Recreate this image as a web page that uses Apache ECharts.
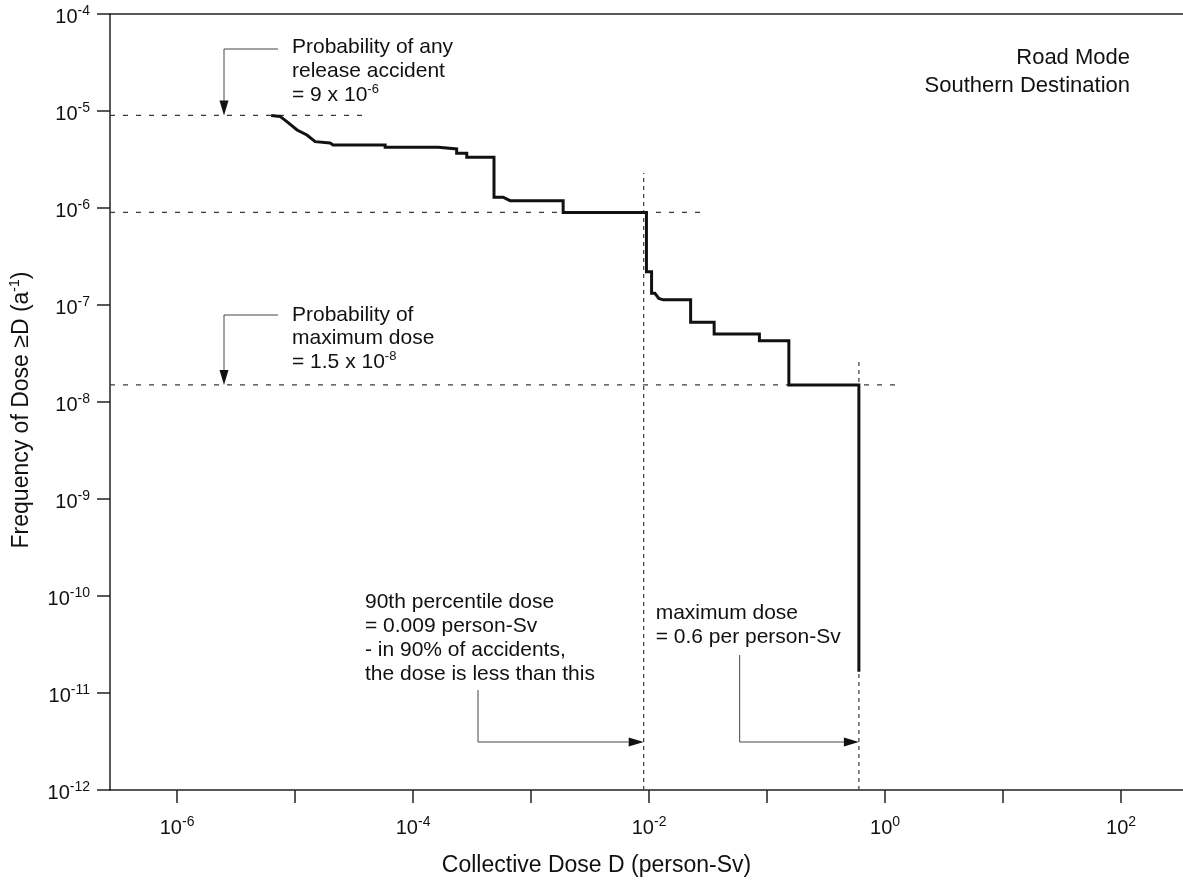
<!DOCTYPE html>
<html>
<head>
<meta charset="utf-8">
<script src="https://cdn.jsdelivr.net/npm/echarts@6/dist/echarts.min.js"></script>
<style>
  html, body { margin: 0; padding: 0; background: #fff; }
  #chart { width: 1183px; height: 889px; }
</style>
</head>
<body>
<div id="chart"></div>
<script>
// Complementary cumulative frequency of collective dose, road mode, southern destination.
// Vertices of the stepped curve: collective dose D (person-Sv) and frequency of dose >= D (per year).
const curveDose = [6.27e-6, 7.46e-6, 8.73e-6, 1.04e-5, 1.26e-5, 1.48e-5, 1.98e-5, 2.10e-5,
  5.80e-5, 5.80e-5, 1.64e-4, 1.64e-4, 2.34e-4, 2.34e-4, 2.85e-4, 2.85e-4, 4.85e-4, 4.85e-4,
  5.79e-4, 6.64e-4, 1.87e-3, 1.87e-3, 9.5e-3, 9.5e-3, 1.05e-2, 1.05e-2, 1.12e-2, 1.21e-2,
  1.32e-2, 2.25e-2, 2.25e-2, 3.56e-2, 3.56e-2, 8.61e-2, 8.61e-2, 0.153, 0.153, 0.6, 0.6];
const curveFreq = [9e-6, 8.8e-6, 7.6e-6, 6.37e-6, 5.66e-6, 4.83e-6, 4.68e-6, 4.46e-6,
  4.46e-6, 4.22e-6, 4.22e-6, 4.06e-6, 4.06e-6, 3.66e-6, 3.66e-6, 3.33e-6, 3.33e-6, 1.29e-6,
  1.29e-6, 1.19e-6, 1.19e-6, 9e-7, 9e-7, 2.2e-7, 2.2e-7, 1.32e-7, 1.32e-7, 1.17e-7,
  1.13e-7, 1.13e-7, 6.64e-8, 6.64e-8, 5.02e-8, 5.02e-8, 4.28e-8, 4.28e-8, 1.5e-8, 1.5e-8, 1.66e-11];

// Axis extents and decade exponents used for ticks and labels
const doseRange = [2.70e-7, 335];
const freqRange = [1e-12, 1e-4];
const doseTickExps = [-6, -5, -4, -3, -2, -1, 0, 1, 2];
const doseLabelExps = [-6, -4, -2, 0, 2];

// Reference levels quoted in the annotations
const releaseProb = 9e-6;        // probability of any release accident
const maxDoseProb = 1.5e-8;      // probability of maximum dose
const percentile90Dose = 0.009;  // 90th percentile dose
const percentile90Freq = 9e-7;   // frequency at the 90th percentile
const maxDose = 0.6;             // maximum dose

// Extents of the dashed guide lines
const releaseGuideEnd = 4.3e-5;
const p90GuideEnd = 0.031;
const maxProbGuideEnd = 1.4;
const p90GuideTop = 2.3e-6;
const maxDoseGuideTop = 2.8e-8;

const FONT = "'Liberation Sans', Arial, Helvetica, sans-serif";
const INK = '#111';
const lg = Math.log10;
const xMin = lg(doseRange[0]), xMax = lg(doseRange[1]);
const yMin = lg(freqRange[0]), yMax = lg(freqRange[1]);

const powRich = {
  b: { fontSize: 20, fontFamily: FONT, color: INK, lineHeight: 26 },
  s: { fontSize: 14, fontFamily: FONT, color: INK, lineHeight: 11, verticalAlign: 'top' }
};
const powLabel = v => '{b|10}{s|' + v + '}';

const axisLineStyle = { color: '#222', width: 1.5 };
const dashH = { color: '#3a3a3a', width: 1.2, type: [5, 8] };
const dashV = { color: '#3a3a3a', width: 1.2, type: [4, 4] };

function guide(points, style) {
  return {
    type: 'line', data: points, symbol: 'none', silent: true,
    lineStyle: style, z: 2, animation: false
  };
}

const chart = echarts.init(document.getElementById('chart'));

const option = {
  animation: false,
  backgroundColor: '#fff',
  grid: { left: 110, right: 0, top: 14, bottom: 99, containLabel: false, outerBoundsMode: 'none' },
  xAxis: [{
    type: 'value', min: xMin, max: xMax,
    name: 'Collective Dose D (person-Sv)',
    nameLocation: 'middle', nameGap: 62, nameMoveOverlap: false,
    nameTextStyle: { fontSize: 23, fontFamily: FONT, color: INK, lineHeight: 28, padding: [0, 100, 0, 0] },
    axisLine: { show: true, onZero: false, lineStyle: axisLineStyle },
    axisTick: { show: true, inside: false, length: 13, lineStyle: axisLineStyle, customValues: doseTickExps },
    axisLabel: { margin: 25, customValues: doseLabelExps, formatter: powLabel, rich: powRich },
    splitLine: { show: false }
  }, {
    type: 'value', position: 'top', min: xMin, max: xMax,
    axisLine: { show: true, onZero: false, lineStyle: axisLineStyle },
    axisTick: { show: false }, axisLabel: { show: false }, splitLine: { show: false }
  }],
  yAxis: {
    type: 'value', min: yMin, max: yMax, interval: 1,
    name: 'Frequency of Dose \u2265D (a{s|-1})',
    nameLocation: 'middle', nameGap: 74, nameMoveOverlap: false,
    nameTextStyle: {
      fontSize: 23, fontFamily: FONT, color: INK, lineHeight: 28, padding: [0, 16, 0, 0],
      rich: { s: { fontSize: 14, fontFamily: FONT, color: INK, lineHeight: 11, verticalAlign: 'top' } }
    },
    axisLine: { show: true, onZero: false, lineStyle: axisLineStyle },
    axisTick: { show: true, inside: false, length: 13, lineStyle: axisLineStyle },
    axisLabel: { margin: 20, padding: [6, 0, 0, 0], formatter: powLabel, rich: powRich },
    splitLine: { show: false }
  },
  series: [
    guide([[xMin, lg(releaseProb)], [lg(releaseGuideEnd), lg(releaseProb)]], dashH),
    guide([[xMin, lg(percentile90Freq)], [lg(p90GuideEnd), lg(percentile90Freq)]], dashH),
    guide([[xMin, lg(maxDoseProb)], [lg(maxProbGuideEnd), lg(maxDoseProb)]], dashH),
    guide([[lg(percentile90Dose), yMin], [lg(percentile90Dose), lg(p90GuideTop)]], dashV),
    guide([[lg(maxDose), yMin], [lg(maxDose), lg(maxDoseGuideTop)]], dashV),
    {
      type: 'line', name: 'Road Mode',
      data: curveDose.map((d, i) => [lg(d), lg(curveFreq[i])]),
      symbol: 'none', silent: true, z: 5,
      lineStyle: { color: INK, width: 3, join: 'miter', cap: 'butt' }
    }
  ]
};
chart.setOption(option);

// Annotation text and leader arrows
function textEl(x, y, text, size, lh, align) {
  return {
    type: 'text', x: x, y: y, silent: true, z: 10,
    style: {
      text: text, fontSize: size, fontFamily: FONT, fill: INK, lineHeight: lh,
      align: align, verticalAlign: 'top', textAlign: align, textVerticalAlign: 'top',
      rich: { s: { fontSize: 13, fontFamily: FONT, fill: INK, lineHeight: 10, verticalAlign: 'top' } }
    }
  };
}

function leader(pts) {
  const n = pts.length, tip = pts[n - 1], prev = pts[n - 2];
  const dx = tip[0] - prev[0], dy = tip[1] - prev[1], L = Math.hypot(dx, dy);
  const ux = dx / L, uy = dy / L, len = 15, hw = 4.5;
  const bx = tip[0] - ux * len, by = tip[1] - uy * len;
  return [
    { type: 'polyline', silent: true, z: 10, shape: { points: pts.slice(0, n - 1).concat([[bx, by]]) },
      style: { stroke: '#444', lineWidth: 1, fill: null } },
    { type: 'polygon', silent: true, z: 10,
      shape: { points: [tip, [bx - uy * hw, by + ux * hw], [bx + uy * hw, by - ux * hw]] },
      style: { fill: INK } }
  ];
}

const toPx = (d, f) => chart.convertToPixel({ xAxisIndex: 0, yAxisIndex: 0 }, [lg(d), lg(f)]);
const releaseY = toPx(1e-6, releaseProb)[1];
const maxProbY = toPx(1e-6, maxDoseProb)[1];
const p90X = toPx(percentile90Dose, 1e-8)[0];
const maxDoseX = toPx(maxDose, 1e-8)[0];
const maxTextX = p90X + 12;

const graphics = [
  textEl(1130, 44, 'Road Mode\nSouthern Destination', 22, 28, 'right'),
  textEl(292, 35, 'Probability of any\nrelease accident\n= 9 x 10{s|-6}', 21, 24, 'left'),
  textEl(292, 303, 'Probability of\nmaximum dose\n= 1.5 x 10{s|-8}', 21, 23.5, 'left'),
  textEl(365, 590, '90th percentile dose\n= 0.009 person-Sv\n- in 90% of accidents,\nthe dose is less than this', 21, 24, 'left'),
  textEl(maxTextX, 601, 'maximum dose\n= 0.6 per person-Sv', 21, 24, 'left')
]
  .concat(leader([[278, 49], [224, 49], [224, releaseY]]))
  .concat(leader([[278, 315], [224, 315], [224, maxProbY]]))
  .concat(leader([[478, 690], [478, 742], [p90X, 742]]))
  .concat(leader([[maxTextX + 84, 655], [maxTextX + 84, 742], [maxDoseX, 742]]));

chart.setOption({ graphic: graphics });
</script>
</body>
</html>
